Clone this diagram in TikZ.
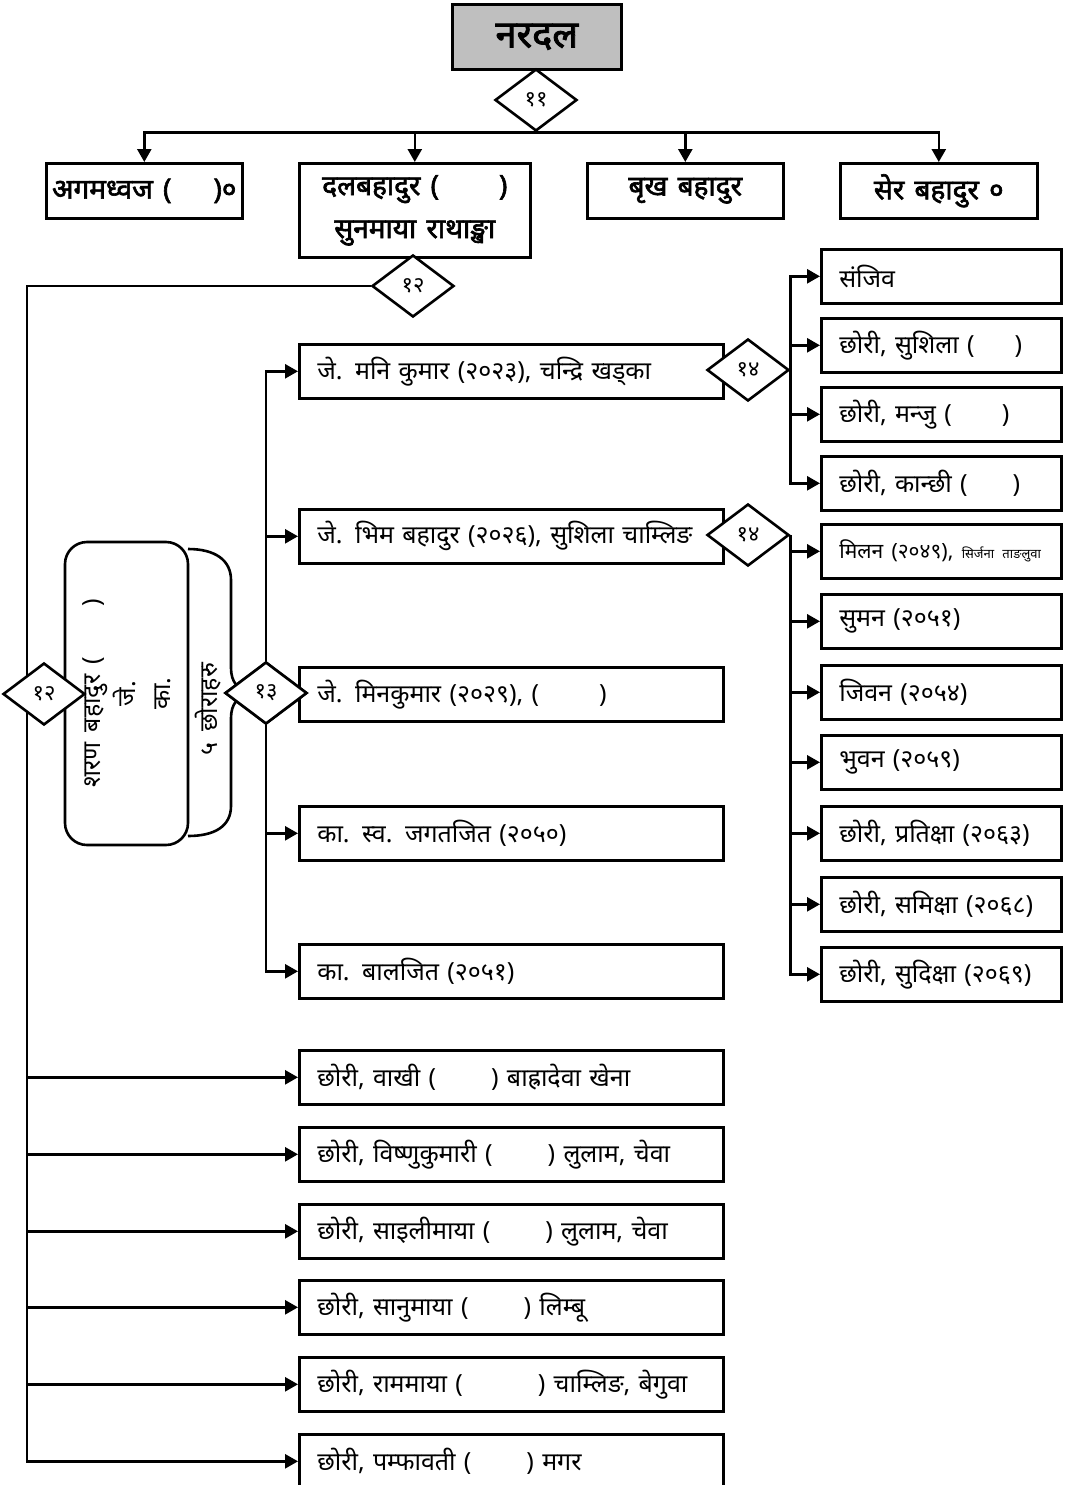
\documentclass[tikz,border=0pt]{standalone}
\usepackage{fontspec}
\setmainfont[Script=Devanagari,WordSpace=1.6]{Noto Sans}
\newfontfamily\devb[Script=Devanagari,FakeBold=2.2,WordSpace=1.4]{Noto Sans}
\usetikzlibrary{shapes.geometric,arrows.meta}
\newcommand\fTitle{\devb\fontsize{38}{42}\selectfont}
\newcommand\fTop{\devb\fontsize{28}{43}\selectfont}
\newcommand\fMid{\fontsize{25}{28}\selectfont}
\newcommand\fDia{\fontsize{22}{24}\selectfont}
\begin{document}
\begin{tikzpicture}[x=1pt,y=-1pt,
  ln/.style={line width=2.6pt},
  arr/.style={ln,-{Triangle[length=13pt,width=14pt]}},
  bx/.style={draw,line width=2.6pt,fill=white,inner sep=0pt,anchor=north west},
  topbox/.style={bx,font=\fTop,align=center},
  midbox/.style={bx,font=\fMid,align=left,inner xsep=18pt,text width=388pt,minimum height=54pt},
  rbox/.style={bx,font=\fMid,align=left,inner xsep=18pt,text width=204pt,minimum height=54pt},
  dia/.style={diamond,draw,line width=2.6pt,fill=white,inner sep=0pt,minimum width=82pt,minimum height=62pt,font=\fDia}]
\useasboundingbox (0,0) rectangle (1076,1485);

% title and first generation
\node[bx,fill=black!25,minimum width=169pt,minimum height=65pt,font=\fTitle] (title) at (451,3) {नरदल};
\node[topbox,minimum width=196pt,minimum height=55pt] (t1) at (45,162) {अगमध्वज (\hspace{42pt})०};
\node[topbox,minimum width=231pt,minimum height=94pt] (t2) at (298,162) {दलबहादुर (\hspace{60pt})\\सुनमाया राथाङ्खा};
\node[topbox,minimum width=196pt,minimum height=55pt] (t3) at (586,162) {बृख बहादुर};
\node[topbox,minimum width=197pt,minimum height=55pt] (t4) at (839,162) {सेर बहादुर ०};

% sons of dal bahadur
\node[midbox] (m1) at (298,343) {जे. मनि कुमार (२०२३), चन्द्रि खड्का};
\node[midbox] (m2) at (298,508) {जे. भिम बहादुर (२०२६), सुशिला चाम्लिङ};
\node[midbox] (m3) at (298,666) {जे. मिनकुमार (२०२९), (\hspace{60pt})};
\node[midbox] (m4) at (298,805) {का. स्व. जगतजित (२०५०)};
\node[midbox] (m5) at (298,943) {का. बालजित (२०५१)};

% children of mani kumar
\node[rbox] (r1) at (820,248) {संजिव};
\node[rbox] (r2) at (820,317) {छोरी, सुशिला (\hspace{40pt})};
\node[rbox] (r3) at (820,386) {छोरी, मन्जु (\hspace{50pt})};
\node[rbox] (r4) at (820,455) {छोरी, कान्छी (\hspace{45pt})};

% children of bhim bahadur
\node[rbox] (s1) at (820,523) {\mbox{\fontsize{21}{24}\selectfont मिलन (२०४९), \fontsize{13}{16}\selectfont सिर्जना ताङलुवा}};
\node[rbox] (s2) at (820,593) {सुमन (२०५१)};
\node[rbox] (s3) at (820,664) {जिवन (२०५४)};
\node[rbox] (s4) at (820,734) {भुवन (२०५९)};
\node[rbox] (s5) at (820,805) {छोरी, प्रतिक्षा (२०६३)};
\node[rbox] (s6) at (820,876) {छोरी, समिक्षा (२०६८)};
\node[rbox] (s7) at (820,946) {छोरी, सुदिक्षा (२०६९)};

% daughters of dal bahadur
\node[midbox] (g1) at (298,1049) {छोरी, वाखी (\hspace{55pt}) बाह्रादेवा खेना};
\node[midbox] (g2) at (298,1126) {छोरी, विष्णुकुमारी (\hspace{55pt}) लुलाम, चेवा};
\node[midbox] (g3) at (298,1203) {छोरी, साइलीमाया (\hspace{55pt}) लुलाम, चेवा};
\node[midbox] (g4) at (298,1279) {छोरी, सानुमाया (\hspace{55pt}) लिम्बू};
\node[midbox] (g5) at (298,1356) {छोरी, राममाया (\hspace{75pt}) चाम्लिङ, बेगुवा};
\node[midbox] (g6) at (298,1433) {छोरी, पम्फावती (\hspace{55pt}) मगर};

% brace behind the sharan box
\draw[ln] (188,549) .. controls (215,549) and (231,560) .. (231,580) -- (231,668)
  .. controls (231,682) and (238,690) .. (250,693)
  .. controls (238,696) and (231,704) .. (231,718) -- (231,806)
  .. controls (231,826) and (215,836) .. (188,836);
\node[draw,line width=2.6pt,fill=white,rounded corners=22pt,rotate=90,minimum width=303pt,minimum height=123pt,inner sep=0pt,align=center,font=\fontsize{25}{35}\selectfont] (sharan) at (126.5,693.5) {शरण बहादुर (\hspace{50pt})\\जे.\\का.};
\node[rotate=90,font=\fMid,inner sep=0pt] (five) at (208,709) {५ छोराहरु};

% diamonds
\node[dia] (d11) at (536,100) {११};
\node[dia] (d12a) at (413,286) {१२};
\node[dia] (d14a) at (748,370) {१४};
\node[dia] (d14b) at (748,535) {१४};

% connectors from d11
\draw[arr] (d11.south) -| (t1.north);
\draw[arr] (d11.south) -| (t2.north);
\draw[arr] (d11.south) -| (t3.north);
\draw[arr] (d11.south) -| (t4.north);

% left trunk
\coordinate (lt) at (27,286);
\draw[arr] (d12a.west) -- (lt) |- (g6.west);
\draw[arr] (lt) |- (g1.west);
\draw[arr] (lt) |- (g2.west);
\draw[arr] (lt) |- (g3.west);
\draw[arr] (lt) |- (g4.west);
\draw[arr] (lt) |- (g5.west);
\node[dia] (d12b) at (44,694) {१२};

% trunk of 13
\node[dia] (d13) at (266,693) {१३};
\draw[arr] (d13.north) |- (m1.west);
\draw[arr] (d13.north) |- (m2.west);
\draw[arr] (d13.south) |- (m4.west);
\draw[arr] (d13.south) |- (m5.west);
\node[dia] at (d13) {१३};

% trunks of 14
\draw[arr] (d14a.east) |- (r1.west);
\draw[arr] (d14a.east) |- (r2.west);
\draw[arr] (d14a.east) |- (r3.west);
\draw[arr] (d14a.east) |- (r4.west);
\draw[arr] (d14b.east) |- (s1.west);
\draw[arr] (d14b.east) |- (s2.west);
\draw[arr] (d14b.east) |- (s3.west);
\draw[arr] (d14b.east) |- (s4.west);
\draw[arr] (d14b.east) |- (s5.west);
\draw[arr] (d14b.east) |- (s6.west);
\draw[arr] (d14b.east) |- (s7.west);
\end{tikzpicture}
\end{document}
